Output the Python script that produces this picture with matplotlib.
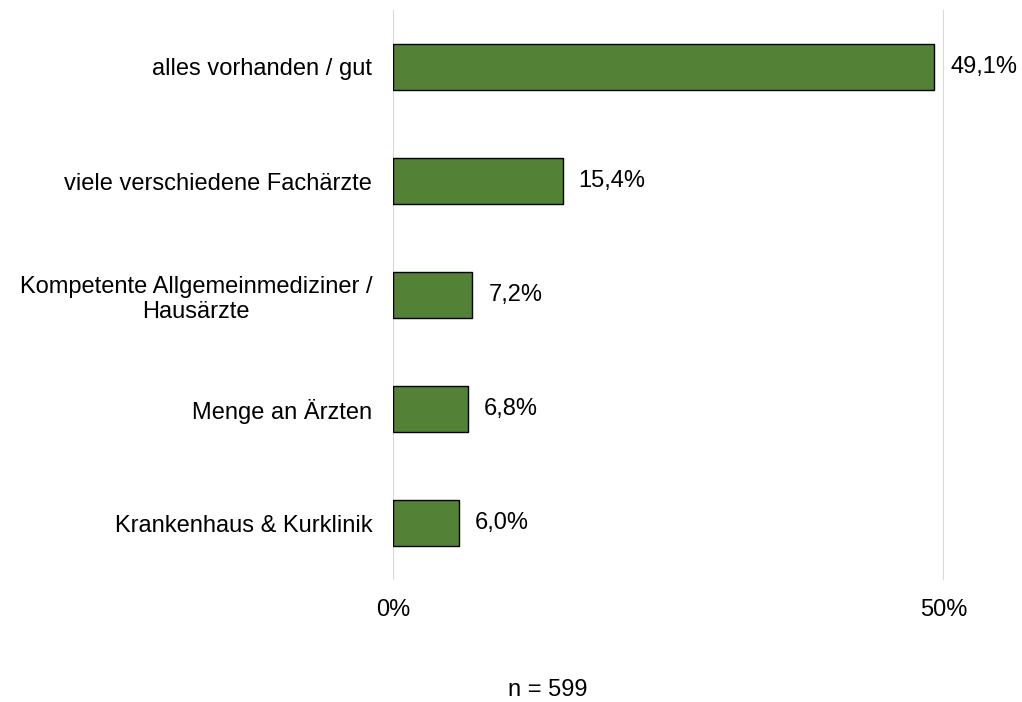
import matplotlib.pyplot as plt
from matplotlib.ticker import FuncFormatter

plt.rcParams['font.family'] = ['Liberation Sans', 'DejaVu Sans']

categories = [
    "alles vorhanden / gut",
    "viele verschiedene Fachärzte",
    "Kompetente Allgemeinmediziner /\nHausärzte",
    "Menge an Ärzten",
    "Krankenhaus & Kurklinik",
]
values = [49.1, 15.4, 7.2, 6.8, 6.0]
n_total = 599

fig = plt.figure(figsize=(10.22, 7.02), dpi=100)
ax = fig.add_axes([393 / 1022, 1 - 580 / 702, (944 - 393) / 1022, 570 / 702])

y = list(range(len(categories)))
ax.barh(y, values, height=0.4, color='#538135', edgecolor='black', linewidth=1, zorder=3)

for yi, v in zip(y, values):
    ax.text(v + 1.45, yi, f"{v:.1f}%".replace('.', ','), va='center', ha='left',
            fontsize=17, clip_on=False)

ax.set_xlim(0, 50)
ax.set_ylim(len(categories) - 0.5, -0.5)
ax.set_xticks([0, 50])
ax.xaxis.set_major_formatter(FuncFormatter(lambda x, p: f"{x:.0f}%"))
ax.set_yticks(y)
ax.set_yticklabels(categories, fontsize=17, multialignment='center')
ax.tick_params(axis='x', labelsize=17, length=0, pad=14)
ax.tick_params(axis='y', length=0, pad=15)
ax.grid(axis='x', color='#d9d9d9', linewidth=1.5, zorder=0)

for s in ax.spines.values():
    s.set_visible(False)

fig.text(548 / 1022, 1 - 690 / 702, f"n = {n_total}", ha='center', va='center', fontsize=17)

fig.savefig('out.png', dpi=100)
